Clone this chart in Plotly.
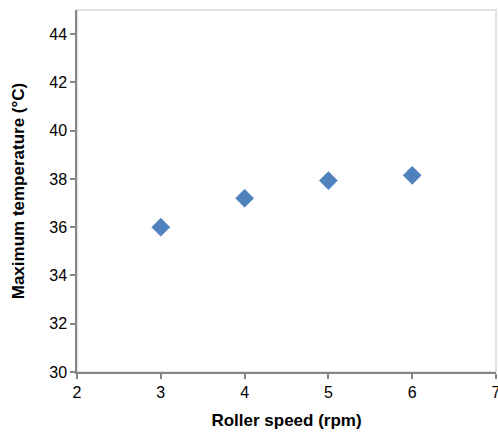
import plotly.graph_objects as go

roller_speed = [3, 4, 5, 6]
max_temperature = [36.0, 37.2, 37.93, 38.15]
x_ticks = [2, 3, 4, 5, 6, 7]
y_ticks = [30, 32, 34, 36, 38, 40, 42, 44]

font_family = "Liberation Sans, Arial, sans-serif"

fig = go.Figure()
fig.add_trace(go.Scatter(
    x=roller_speed, y=max_temperature, mode="markers",
    marker=dict(symbol="diamond", size=14, color="#4F81BD",
                line=dict(width=0.5, color="#4A7EBB")),
    showlegend=False,
))

fig.update_layout(
    width=498, height=436, autosize=False,
    margin=dict(l=77, r=2, t=10, b=64),
    paper_bgcolor="white", plot_bgcolor="white",
    font=dict(family=font_family, size=16, color="black"),
    shapes=[dict(type="rect", xref="paper", yref="paper", x0=0, x1=1, y0=0, y1=1,
                 line=dict(color="#D9D9D9", width=1.5), layer="below")],
)
fig.update_xaxes(
    range=[2, 7], tickvals=x_ticks, showgrid=False, zeroline=False,
    showline=True, linecolor="#868686", linewidth=1.5, automargin=False,
    ticks="outside", ticklen=5, tickcolor="#868686", tickwidth=1.5,
    tickfont=dict(size=16), ticklabeloverflow="allow",
    title=dict(text="<b>Roller speed (rpm)</b>", font=dict(size=17), standoff=14),
)
fig.update_yaxes(
    range=[30, 45], tickvals=y_ticks, showgrid=False, zeroline=False,
    showline=True, linecolor="#868686", linewidth=1.5, automargin=False,
    ticks="outside", ticklen=5, tickcolor="#868686", tickwidth=1.5,
    tickfont=dict(size=16), ticklabeloverflow="allow",
    title=dict(text="<b>Maximum temperature (°C)</b>", font=dict(size=17), standoff=20),
)

fig.write_html(
    "out.html",
    config={"responsive": False, "displayModeBar": False},
    post_script="document.body.style.margin='0';document.body.style.overflow='hidden';",
)
